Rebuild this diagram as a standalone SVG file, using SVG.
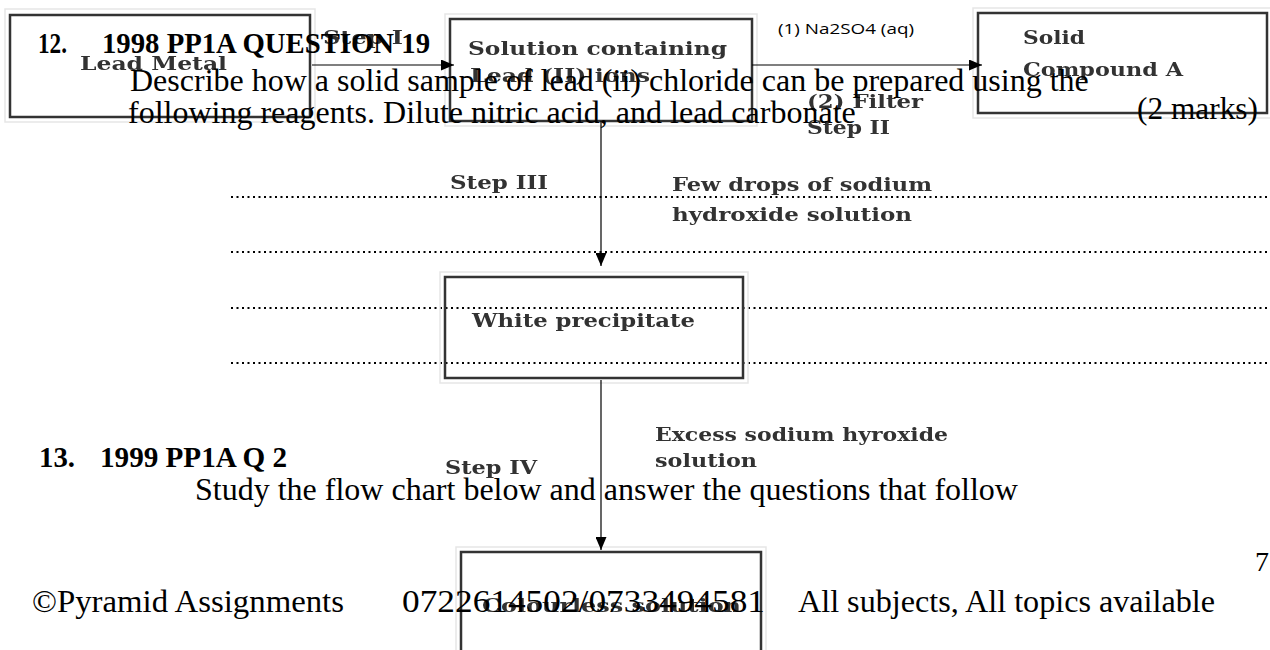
<svg xmlns="http://www.w3.org/2000/svg" width="1270" height="650" viewBox="0 0 1270 650">
<style>
.doc{font-family:"Liberation Serif","Times New Roman",serif;font-size:32px;fill:#000}
.hd{font-family:"Liberation Serif","Times New Roman",serif;font-size:30px;font-weight:bold;fill:#000}
.lbl{font-family:"DejaVu Serif","Liberation Serif",serif;font-size:18px;font-weight:bold;fill:#333;filter:url(#soft)}
.sans{font-family:"Open Sans","Liberation Sans",sans-serif;font-size:14px;fill:#000}
.box{fill:none;stroke:#333;stroke-width:2.5}
.halo{fill:none;stroke:#e6e6e6;stroke-width:1.5}
.conn{stroke:#000;stroke-width:1.2;fill:none}
.dots{stroke:#000;stroke-width:2;stroke-dasharray:2 3.5}
</style>
<defs>
<filter id="soft" x="-5%" y="-20%" width="110%" height="140%">
<feGaussianBlur stdDeviation="0.45"/>
</filter>
<marker id="ah" viewBox="0 0 13 11" markerWidth="13" markerHeight="11" refX="13" refY="5.5" orient="auto" markerUnits="userSpaceOnUse">
<path d="M0,0 L13,5.5 L0,11 z" fill="#000"/>
</marker>
</defs>
<rect width="1270" height="650" fill="#fff"/>

<g id="answer-lines">
<line class="dots" x1="231" y1="197" x2="1270" y2="197"/>
<line class="dots" x1="231" y1="252" x2="1270" y2="252"/>
<line class="dots" x1="231" y1="308" x2="1270" y2="308"/>
<line class="dots" x1="231" y1="363" x2="1270" y2="363"/>
</g>

<g id="node-lead-metal">
<rect class="halo" x="5" y="9" width="310" height="113"/>
<rect class="box" x="10" y="15" width="300" height="102"/>
<text class="lbl" x="80" y="70" textLength="147" lengthAdjust="spacingAndGlyphs">Lead Metal</text>
</g>
<g id="node-solution">
<rect class="halo" x="445" y="14" width="312" height="112"/>
<rect class="box" x="450" y="19" width="302" height="102"/>
<text class="lbl" x="468" y="55" textLength="259" lengthAdjust="spacingAndGlyphs">Solution containing</text>
<text class="lbl" x="470" y="82" textLength="180" lengthAdjust="spacingAndGlyphs">Lead (II) ions</text>
</g>
<g id="node-solid-a">
<rect class="halo" x="973" y="8" width="300" height="110"/>
<rect class="box" x="978" y="13" width="289" height="100"/>
<text class="lbl" x="1023" y="44" textLength="62" lengthAdjust="spacingAndGlyphs">Solid</text>
<text class="lbl" x="1023" y="76" textLength="160" lengthAdjust="spacingAndGlyphs">Compound A</text>
</g>
<g id="node-white-ppt">
<rect class="halo" x="440" y="272" width="308" height="111"/>
<rect class="box" x="445" y="277" width="298" height="101"/>
<text class="lbl" x="472" y="327" textLength="223" lengthAdjust="spacingAndGlyphs">White precipitate</text>
</g>
<g id="node-final">
<rect class="halo" x="456" y="547" width="310" height="110"/>
<rect class="box" x="461" y="552" width="300" height="110"/>
<text class="lbl" x="482" y="612" textLength="259" lengthAdjust="spacingAndGlyphs">Colourless solution</text>
</g>

<g id="connectors">
<line class="conn" x1="312" y1="65" x2="454" y2="65" marker-end="url(#ah)"/>
<line class="conn" x1="752" y1="65" x2="982" y2="65" marker-end="url(#ah)"/>
<line class="conn" x1="601" y1="121" x2="601" y2="266" marker-end="url(#ah)"/>
<line class="conn" x1="601" y1="380" x2="601" y2="550" marker-end="url(#ah)"/>
</g>

<g id="connector-labels">
<text class="lbl" x="323" y="44" textLength="80" lengthAdjust="spacingAndGlyphs">Step I</text>
<text class="sans" x="778" y="34" textLength="136" lengthAdjust="spacingAndGlyphs">(1) Na2SO4 (aq)</text>
<text class="lbl" x="807" y="108" textLength="116" lengthAdjust="spacingAndGlyphs">(2) Filter</text>
<text class="lbl" x="807" y="134" textLength="83" lengthAdjust="spacingAndGlyphs">Step II</text>
<text class="lbl" x="450" y="189" textLength="98" lengthAdjust="spacingAndGlyphs">Step III</text>
<text class="lbl" x="672" y="191" textLength="260" lengthAdjust="spacingAndGlyphs">Few drops of sodium</text>
<text class="lbl" x="672" y="221" textLength="240" lengthAdjust="spacingAndGlyphs">hydroxide solution</text>
<text class="lbl" x="655" y="441" textLength="293" lengthAdjust="spacingAndGlyphs">Excess sodium hyroxide</text>
<text class="lbl" x="655" y="467" textLength="102" lengthAdjust="spacingAndGlyphs">solution</text>
<text class="lbl" x="445" y="474" textLength="92" lengthAdjust="spacingAndGlyphs">Step IV</text>
</g>

<g id="page-text">
<text class="hd" x="38" y="53" textLength="29" lengthAdjust="spacingAndGlyphs">12.</text>
<text class="hd" x="102" y="53" textLength="328" lengthAdjust="spacingAndGlyphs">1998 PP1A QUESTION 19</text>
<text class="doc" x="130" y="91">Describe how a solid sample of lead (ii) chloride can be prepared using the</text>
<text class="doc" x="128" y="123">following reagents.  Dilute nitric acid, and lead carbonate</text>
<text class="doc" x="1137" y="119" textLength="121" lengthAdjust="spacingAndGlyphs">(2 marks)</text>
<text class="hd" x="39" y="467" textLength="36" lengthAdjust="spacingAndGlyphs">13.</text>
<text class="hd" x="100" y="467" textLength="187" lengthAdjust="spacingAndGlyphs">1999 PP1A Q 2</text>
<text class="doc" x="195" y="500">Study the flow chart below and answer the questions that follow</text>
<text class="doc" x="32" y="612" textLength="312" lengthAdjust="spacingAndGlyphs">©Pyramid Assignments</text>
<text class="doc" x="402" y="612" textLength="363" lengthAdjust="spacingAndGlyphs">0722614502/0733494581</text>
<text class="doc" x="798" y="612" textLength="417" lengthAdjust="spacingAndGlyphs">All subjects, All topics available</text>
<text class="doc" x="1255" y="571" style="font-size:28px">7</text>
</g>
</svg>
